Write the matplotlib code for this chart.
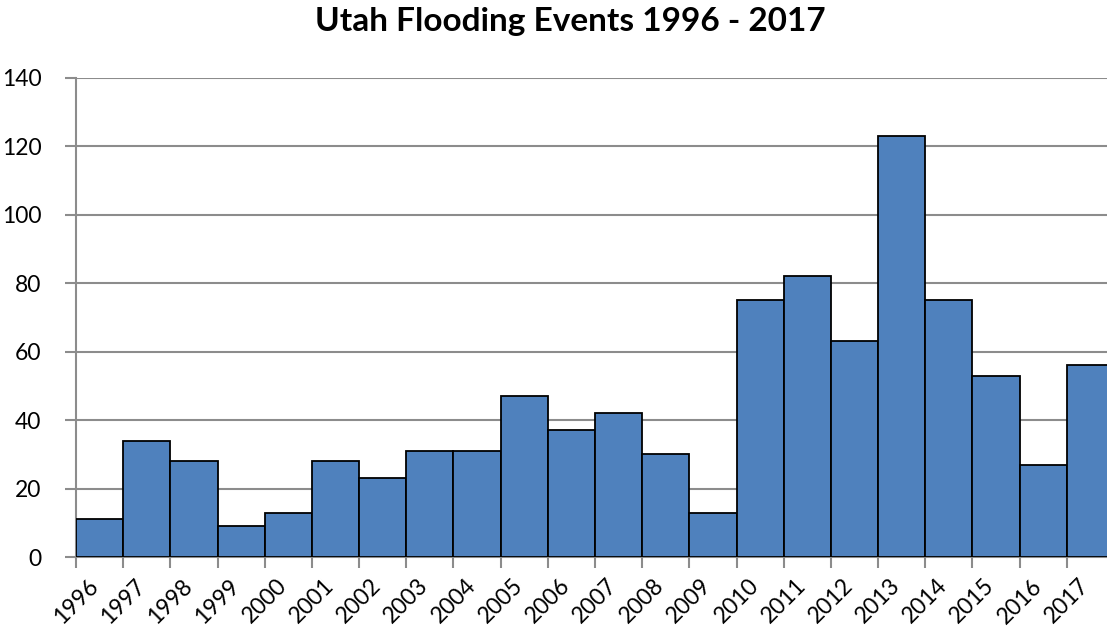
import numpy as np
import matplotlib.pyplot as plt

plt.rcParams['font.family'] = ['Lato', 'DejaVu Sans']

years = list(range(1996, 2018))
events = [11, 34, 28, 9, 13, 28, 23, 31, 31, 47, 37, 42, 30, 13,
          75, 82, 63, 123, 75, 53, 27, 56]

fig = plt.figure(figsize=(11.07, 6.31), dpi=100)
# plot area runs slightly past the right edge, as in the original export
ax = fig.add_axes([76 / 1107, 1 - 557 / 631, 1038 / 1107, 479 / 631])

x = np.arange(len(years))
ax.bar(x, events, width=1.0, align='edge', color='#4F81BD',
       edgecolor='black', linewidth=1.3, zorder=3)

ax.set_xlim(0, len(years))
ax.set_ylim(0, 140)
ax.set_yticks(np.arange(0, 141, 20))
ax.set_xticks(x)
ax.set_xticklabels([str(y) for y in years], rotation=45, ha='center',
                   va='top', fontsize=16.5)
ax.tick_params(axis='y', labelsize=16.5, length=8, width=1.5, color='#8c8c8c', pad=17)
ax.tick_params(axis='x', length=8, width=1.5, color='#8c8c8c', pad=5)

ax.grid(axis='y', color='#8c8c8c', linewidth=1.5, zorder=0)
ax.set_axisbelow(True)
for side in ['top', 'right']:
    ax.spines[side].set_visible(False)
for side in ['left', 'bottom']:
    ax.spines[side].set_color('#8c8c8c')
    ax.spines[side].set_linewidth(1.5)

fig.text(570 / 1107, 1 - 22 / 631, 'Utah Flooding Events 1996 - 2017',
         ha='center', va='center', fontsize=24, fontweight='bold')

fig.savefig('out.png', dpi=100)
